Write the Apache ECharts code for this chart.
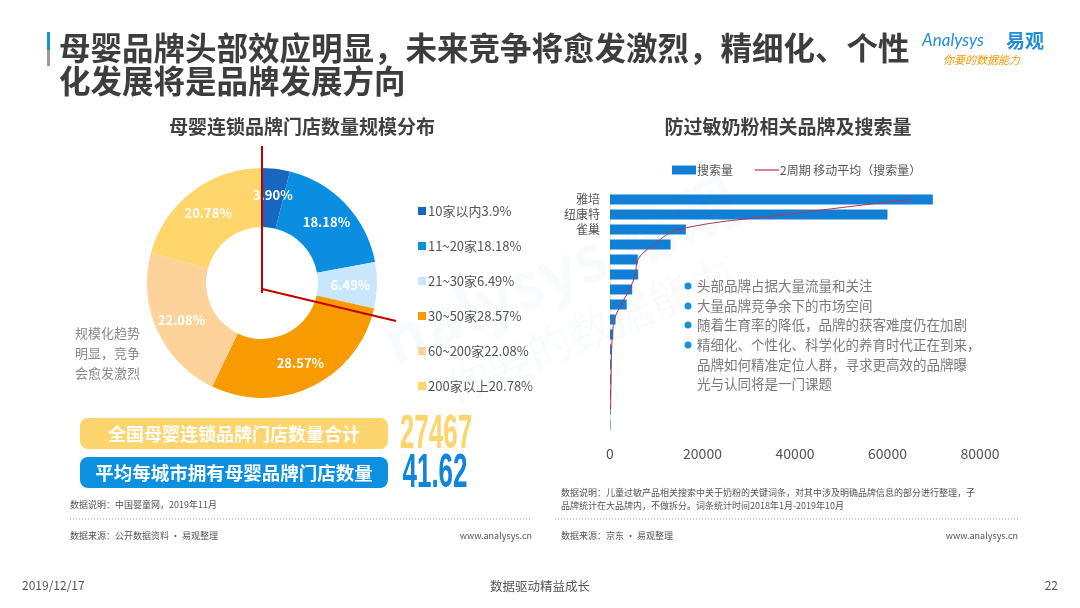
<!DOCTYPE html>
<html>
<head>
<meta charset="utf-8">
<script src="https://cdn.jsdelivr.net/npm/echarts@6/dist/echarts.min.js"></script>
<style>
  html, body { margin: 0; padding: 0; background: #fff; }
  #main { width: 1080px; height: 608px; }
</style>
</head>
<body>
<div id="main"></div>
<script>
// 门店规模分布（环形图）
var pieNames = ['10家以内', '11~20家', '21~30家', '30~50家', '60~200家', '200家以上'];
var pieValues = [3.90, 18.18, 6.49, 28.57, 22.08, 20.78];
var pieColors = ['#1766c0', '#0b8ee2', '#c8e7fa', '#f79b00', '#fdd39b', '#fed66c'];

// 品牌搜索量（横向柱状图）
var brandNames = ['雅培', '纽康特', '雀巢', '', '', '', '', '', '', '', '', '', '', '', '', ''];
var searchValues = [69800, 60000, 16400, 13100, 6000, 6100, 4800, 3600, 1200, 700, 400, 300, 250, 200, 150, 100];
var movingAvg = [64900, 38000, 14750, 9550, 6050, 5450, 4200, 2400, 950, 550, 350, 275, 225, 175, 125, '-'];
var xTicks = [0, 20000, 40000, 60000, 80000];

var bullets = [
  '头部品牌占据大量流量和关注',
  '大量品牌竞争余下的市场空间',
  '随着生育率的降低，品牌的获客难度仍在加剧',
  '精细化、个性化、科学化的养育时代正在到来，\n品牌如何精准定位人群，寻求更高效的品牌曝\n光与认同将是一门课题'
];

var FONT = '"Noto Sans CJK SC", "Noto Sans", sans-serif';

function txt(x, y, text, size, color, extra) {
  var st = { x: x, y: y, text: text, fontSize: size, fill: color, fontFamily: FONT };
  for (var k in extra) st[k] = extra[k];
  return { type: 'text', z: 50, style: st };
}

var graphics = [];
// 标题
graphics.push({ type: 'rect', z: 50, shape: { x: 47, y: 32, width: 3, height: 18 }, style: { fill: '#1a8fd8' } });
graphics.push({ type: 'rect', z: 50, shape: { x: 47, y: 50, width: 3, height: 16 }, style: { fill: '#9a9a9a' } });
graphics.push(txt(59, 48, '母婴品牌头部效应明显，未来竞争将愈发激烈，精细化、个性', 31.5, '#3d3d3d', { fontWeight: 'bold', verticalAlign: 'middle' }));
graphics.push(txt(59, 81, '化发展将是品牌发展方向', 31.5, '#3d3d3d', { fontWeight: 'bold', verticalAlign: 'middle' }));
// logo
graphics.push(txt(922, 41, 'Analysys', 17, '#1e8fd8', { fontStyle: 'italic', verticalAlign: 'middle', fontFamily: 'Lato, sans-serif' }));
graphics.push(txt(1006, 41, '易观', 19, '#1e8fd8', { fontWeight: 'bold', verticalAlign: 'middle' }));
graphics.push(txt(943, 60, '你要的数据能力', 11, '#f39800', { fontStyle: 'italic', verticalAlign: 'middle' }));
// 小标题
graphics.push(txt(302, 127, '母婴连锁品牌门店数量规模分布', 19, '#404040', { fontWeight: 'bold', align: 'center', verticalAlign: 'middle' }));
graphics.push(txt(788, 127, '防过敏奶粉相关品牌及搜索量', 19, '#404040', { fontWeight: 'bold', align: 'center', verticalAlign: 'middle' }));
// 水印
graphics.push({ type: 'text', z: 1, x: 560, y: 270, rotation: 0.4,
  style: { text: 'nalysys 易观', fontSize: 64, fill: 'rgba(30,143,216,0.035)', fontFamily: FONT, fontWeight: 'bold', align: 'center', verticalAlign: 'middle' } });
graphics.push({ type: 'text', z: 1, x: 590, y: 330, rotation: 0.4,
  style: { text: '你要的数据能力', fontSize: 44, fill: 'rgba(30,143,216,0.035)', fontFamily: FONT, align: 'center', verticalAlign: 'middle' } });
// 红色标注线
graphics.push({ type: 'line', z: 60, shape: { x1: 262, y1: 146, x2: 262, y2: 293 }, style: { stroke: '#c00000', lineWidth: 2 } });
graphics.push({ type: 'line', z: 60, shape: { x1: 262, y1: 289, x2: 396, y2: 321 }, style: { stroke: '#c00000', lineWidth: 2 } });
// 左侧说明
graphics.push(txt(75, 353, '规模化趋势\n明显，竞争\n会愈发激烈', 13, '#888', { lineHeight: 20, verticalAlign: 'middle' }));
// 汇总条
graphics.push({ type: 'rect', z: 50, shape: { x: 80, y: 418, width: 308, height: 31, r: 8 }, style: { fill: '#fdd46d' } });
graphics.push(txt(234, 434, '全国母婴连锁品牌门店数量合计', 18, '#fff', { fontWeight: 'bold', align: 'center', verticalAlign: 'middle' }));
graphics.push({ type: 'rect', z: 50, shape: { x: 80, y: 457, width: 308, height: 31, r: 8 }, style: { fill: '#0e90e0' } });
graphics.push(txt(234, 473, '平均每城市拥有母婴品牌门店数量', 18.5, '#fff', { fontWeight: 'bold', align: 'center', verticalAlign: 'middle' }));
graphics.push({ type: 'text', z: 50, x: 436, y: 435, scaleY: 1.85,
  style: { text: '27467', fontSize: 26, fontWeight: 'bold', fill: '#fdd46d', fontFamily: '"Liberation Sans Narrow", sans-serif', align: 'center', verticalAlign: 'middle' } });
graphics.push({ type: 'text', z: 50, x: 435, y: 474, scaleY: 1.85,
  style: { text: '41.62', fontSize: 26, fontWeight: 'bold', fill: '#1185d8', fontFamily: '"Liberation Sans Narrow", sans-serif', align: 'center', verticalAlign: 'middle' } });
// 要点
var by = [286, 306, 325, 345];
bullets.forEach(function (b, i) {
  graphics.push({ type: 'circle', z: 50, shape: { cx: 688, cy: by[i], r: 3.5 }, style: { fill: '#1a8fd8' } });
  graphics.push(txt(697, by[i] - 9.75, b, 13.5, '#7a7a7a', { verticalAlign: 'top', lineHeight: 19.5 }));
});
// 注释
graphics.push(txt(70, 505, '数据说明：中国婴童网，2019年11月', 9, '#555', { verticalAlign: 'middle' }));
graphics.push({ type: 'line', z: 50, shape: { x1: 70, y1: 519, x2: 532, y2: 519 }, style: { stroke: '#999', lineWidth: 1, lineDash: [1, 2] } });
graphics.push(txt(70, 536, '数据来源：公开数据资料 · 易观整理', 9, '#555', { verticalAlign: 'middle' }));
graphics.push(txt(532, 536, 'www.analysys.cn', 9, '#555', { verticalAlign: 'middle', align: 'right' }));
graphics.push(txt(561, 493, '数据说明：儿童过敏产品相关搜索中关于奶粉的关键词条，对其中涉及明确品牌信息的部分进行整理，子', 9, '#555', { verticalAlign: 'middle' }));
graphics.push(txt(561, 506, '品牌统计在大品牌内，不做拆分。词条统计时间2018年1月-2019年10月', 9, '#555', { verticalAlign: 'middle' }));
graphics.push({ type: 'line', z: 50, shape: { x1: 555, y1: 519, x2: 1020, y2: 519 }, style: { stroke: '#999', lineWidth: 1, lineDash: [1, 2] } });
graphics.push(txt(561, 536, '数据来源：京东 · 易观整理', 9, '#555', { verticalAlign: 'middle' }));
graphics.push(txt(1018, 536, 'www.analysys.cn', 9, '#555', { verticalAlign: 'middle', align: 'right' }));
// 页脚
graphics.push(txt(22, 585, '2019/12/17', 12, '#555', { verticalAlign: 'middle' }));
graphics.push(txt(540, 586, '数据驱动精益成长', 12.5, '#555', { verticalAlign: 'middle', align: 'center' }));
graphics.push(txt(1058, 585, '22', 12, '#555', { verticalAlign: 'middle', align: 'right' }));

var myChart = echarts.init(document.getElementById('main'));
var options = {
  animation: false,
  backgroundColor: '#fff',
  textStyle: { fontFamily: FONT },
  graphic: graphics,
  legend: [
    {
      // 环形图图例
      data: pieNames,
      orient: 'vertical',
      left: 413, top: 199,
      icon: 'rect', itemWidth: 8, itemHeight: 8, itemGap: 21,
      textStyle: { fontSize: 13, color: '#555', lineHeight: 14, padding: [0, 0, 0, -3] },
      formatter: function (name) {
        return name + pieValues[pieNames.indexOf(name)] + '%';
      }
    },
    {
      // 柱状图图例
      data: [
        { name: '搜索量', icon: 'rect' },
        { name: '2周期 移动平均（搜索量）', icon: 'path://M0,0 H100 V5 H0 Z' }
      ],
      left: 667, top: 159,
      itemWidth: 24, itemHeight: 9, itemGap: 22,
      textStyle: { fontSize: 12, color: '#555', padding: [0, 0, 0, -4] }
    }
  ],
  grid: { left: 610, width: 370, top: 192, height: 240 },
  xAxis: {
    type: 'value', min: 0, max: 80000, interval: 20000,
    axisLine: { show: false }, axisTick: { show: false }, splitLine: { show: false },
    axisLabel: { fontSize: 14, color: '#555', margin: 15,
      formatter: function (v) { return xTicks.indexOf(v) >= 0 ? String(v) : ''; } }
  },
  yAxis: {
    type: 'category', inverse: true, data: brandNames,
    axisLine: { show: true, lineStyle: { color: '#e6e6e6' } },
    axisTick: { show: false },
    axisLabel: { fontSize: 12, color: '#555', margin: 10, interval: 0 }
  },
  series: [
    {
      name: '门店数量', type: 'pie',
      center: [262, 283], radius: [56, 115],
      startAngle: 90, clockwise: true,
      data: pieNames.map(function (n, i) { return { name: n, value: pieValues[i], itemStyle: { color: pieColors[i] } }; }),
      label: {
        show: true, position: 'inside', color: '#fff', fontSize: 13, fontWeight: 'bold',
        formatter: function (p) { return p.value.toFixed(2) + '%'; }
      },
      labelLine: { show: false },
      emphasis: { disabled: true }
    },
    {
      name: '搜索量', type: 'bar',
      data: searchValues, barWidth: 10,
      itemStyle: { color: '#127fd6' }
    },
    {
      name: '2周期 移动平均（搜索量）', type: 'line',
      data: movingAvg, smooth: 0.4, symbol: 'none',
      lineStyle: { color: '#b8344a', width: 1 },
      itemStyle: { color: '#b8344a' }
    }
  ]
};
myChart.setOption(options);
</script>
</body>
</html>
